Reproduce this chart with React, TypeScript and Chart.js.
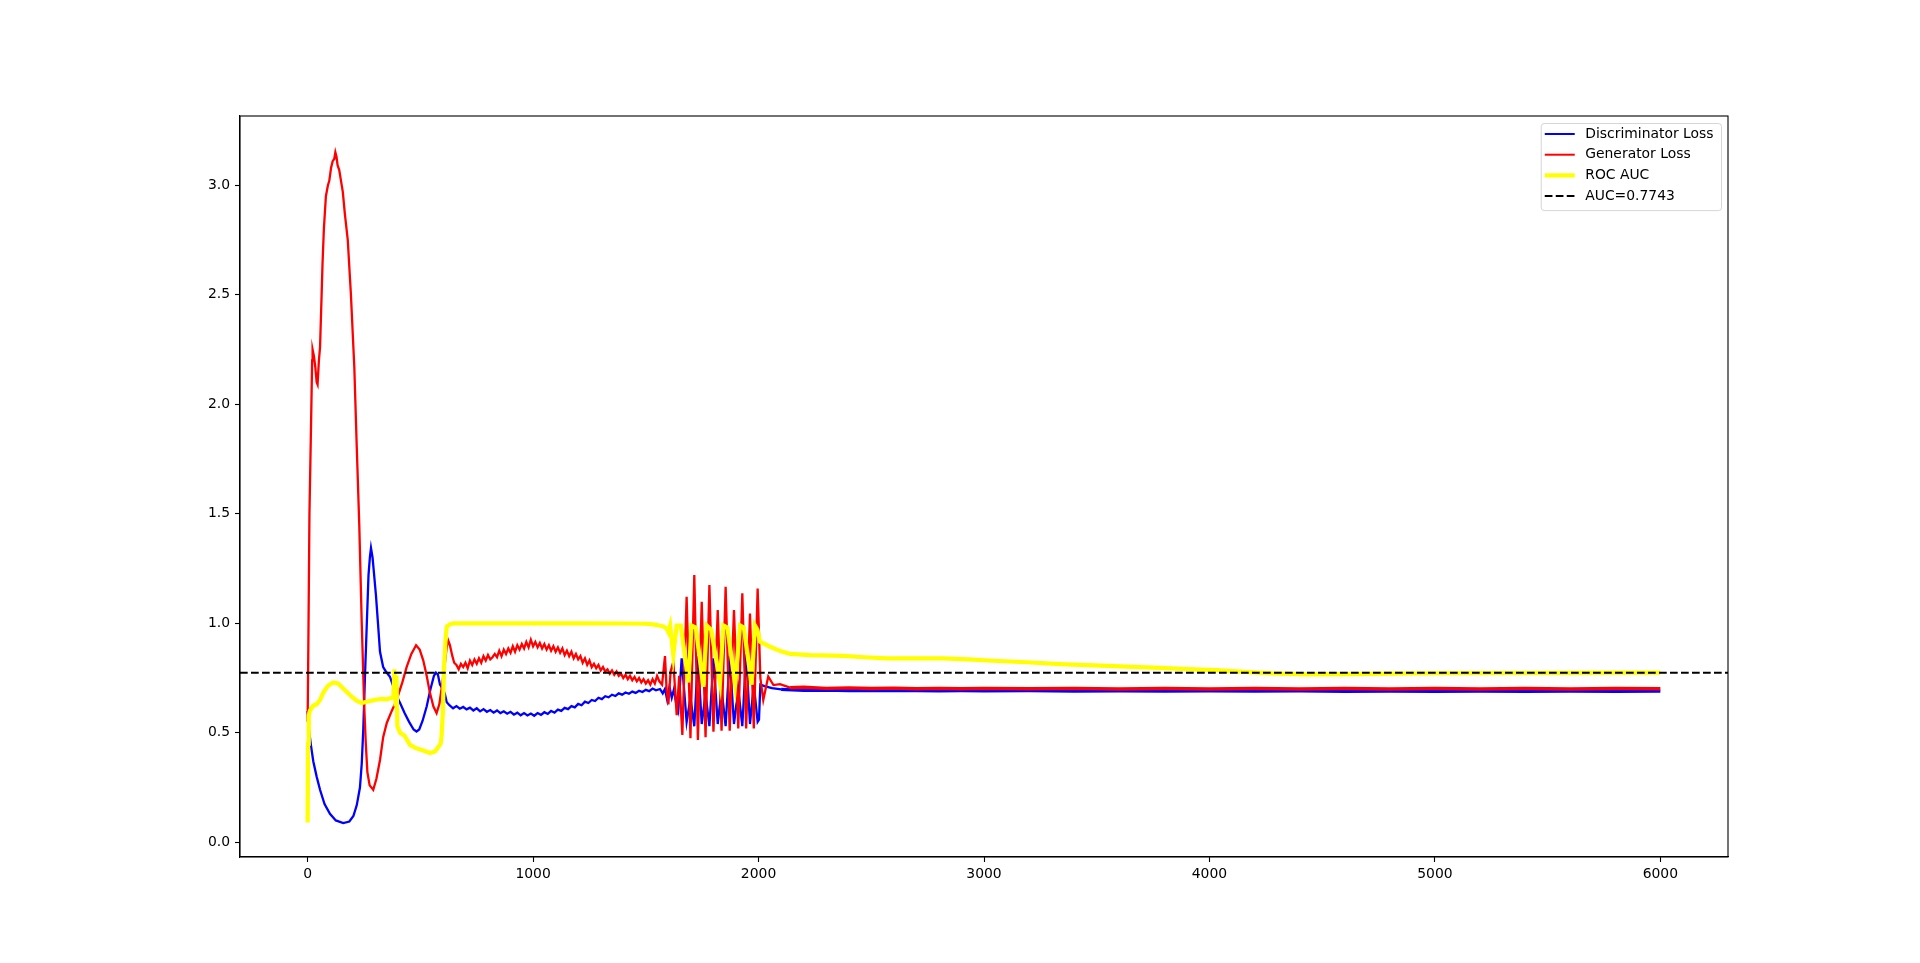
import { useEffect, useRef } from "react";
import { Chart, registerables } from "chart.js";

Chart.register(...registerables);

// [step, value] pairs
const DISC_LOSS: [number, number][] = [
  [0, 0.6], [5, 0.52], [15, 0.44], [25, 0.37], [40, 0.3], [55, 0.24], [75, 0.175], [99, 0.13], [125, 0.1],
  [158, 0.088], [185, 0.095], [203, 0.12], [218, 0.17], [232, 0.25], [240, 0.36], [247, 0.52], [255, 0.78],
  [262, 0.985], [270, 1.22], [276, 1.3], [281, 1.344], [288, 1.3], [295, 1.22], [303, 1.128], [312, 1.0],
  [321, 0.87], [335, 0.8], [347, 0.78], [365, 0.756], [377, 0.72], [390, 0.68], [410, 0.636], [430, 0.59],
  [450, 0.55], [470, 0.515], [483, 0.506], [495, 0.515], [510, 0.555], [528, 0.62], [545, 0.7], [560, 0.76],
  [569, 0.775], [578, 0.765], [587, 0.72], [600, 0.7], [608, 0.68], [617, 0.64], [630, 0.625], [645, 0.612],
  [660, 0.622], [675, 0.61], [690, 0.618], [705, 0.607], [720, 0.615], [735, 0.602], [750, 0.612], [765, 0.598],
  [780, 0.608], [795, 0.596], [810, 0.604], [825, 0.592], [840, 0.602], [855, 0.59], [870, 0.598], [885, 0.587],
  [900, 0.596], [915, 0.583], [930, 0.592], [945, 0.58], [960, 0.59], [975, 0.579], [990, 0.588], [1005, 0.578],
  [1020, 0.59], [1035, 0.582], [1050, 0.594], [1065, 0.586], [1080, 0.6], [1095, 0.592], [1110, 0.606],
  [1125, 0.6], [1140, 0.614], [1155, 0.608], [1170, 0.622], [1185, 0.616], [1200, 0.632], [1215, 0.626],
  [1230, 0.642], [1245, 0.636], [1260, 0.65], [1275, 0.645], [1290, 0.66], [1305, 0.654], [1320, 0.667],
  [1335, 0.662], [1350, 0.674], [1365, 0.668], [1380, 0.68], [1395, 0.674], [1410, 0.684], [1425, 0.678],
  [1440, 0.688], [1455, 0.682], [1470, 0.692], [1485, 0.686], [1500, 0.696], [1515, 0.69], [1530, 0.702],
  [1545, 0.694], [1563, 0.7], [1575, 0.68], [1585, 0.7], [1595, 0.65], [1605, 0.71], [1615, 0.66], [1625, 0.7],
  [1635, 0.63], [1644, 0.6], [1659, 0.84], [1681, 0.55], [1698, 0.66], [1715, 0.53], [1731, 0.85], [1748, 0.54],
  [1765, 0.68], [1782, 0.53], [1800, 0.84], [1819, 0.54], [1836, 0.7], [1854, 0.53], [1872, 0.85], [1891, 0.54],
  [1910, 0.7], [1928, 0.53], [1945, 0.86], [1962, 0.54], [1979, 0.72], [1996, 0.55], [2002, 0.56], [2008, 0.72],
  [2030, 0.712], [2060, 0.704], [2100, 0.698], [2200, 0.694], [2300, 0.695], [2400, 0.693], [2500, 0.694],
  [2600, 0.692], [2700, 0.693], [2800, 0.691], [2900, 0.692], [3000, 0.691], [3200, 0.692], [3400, 0.69],
  [3600, 0.691], [3800, 0.69], [4000, 0.691], [4200, 0.69], [4400, 0.691], [4600, 0.689], [4800, 0.69],
  [5000, 0.689], [5200, 0.69], [5400, 0.689], [5600, 0.69], [5800, 0.689], [6000, 0.69],
];

const GEN_LOSS: [number, number][] = [
  [0, 0.55], [4, 1.0], [8, 1.5], [15, 1.9], [20, 2.2], [22, 2.25], [28, 2.22], [34, 2.17], [40, 2.1], [44, 2.09],
  [50, 2.2], [55, 2.26], [62, 2.5], [66, 2.64], [72, 2.8], [81, 2.95], [90, 3.0], [96, 3.02], [104, 3.08],
  [111, 3.11], [118, 3.12], [123, 3.15], [128, 3.13], [133, 3.09], [140, 3.07], [148, 3.02], [156, 2.97],
  [165, 2.87], [178, 2.75], [192, 2.5], [207, 2.17], [218, 1.8], [229, 1.45], [240, 1.0], [251, 0.62],
  [258, 0.45], [265, 0.32], [275, 0.26], [291, 0.24], [305, 0.29], [321, 0.376], [335, 0.48], [351, 0.545],
  [373, 0.6], [395, 0.65], [420, 0.73], [439, 0.8], [460, 0.86], [481, 0.9], [497, 0.88], [513, 0.83],
  [528, 0.76], [543, 0.68], [558, 0.62], [572, 0.59], [584, 0.63], [594, 0.7], [607, 0.8], [617, 0.893],
  [624, 0.92], [631, 0.9], [642, 0.85], [650, 0.82], [660, 0.81], [670, 0.79], [680, 0.815], [690, 0.8],
  [700, 0.82], [710, 0.795], [720, 0.83], [730, 0.81], [740, 0.835], [750, 0.815], [760, 0.84], [770, 0.82],
  [780, 0.85], [790, 0.83], [800, 0.855], [810, 0.835], [820, 0.845], [830, 0.86], [840, 0.845], [850, 0.875],
  [860, 0.85], [870, 0.88], [880, 0.86], [890, 0.885], [900, 0.865], [910, 0.895], [920, 0.87], [930, 0.9],
  [940, 0.88], [950, 0.905], [960, 0.885], [970, 0.915], [980, 0.89], [990, 0.925], [1000, 0.895],
  [1010, 0.915], [1020, 0.89], [1030, 0.91], [1040, 0.885], [1050, 0.905], [1060, 0.88], [1070, 0.9],
  [1080, 0.875], [1090, 0.895], [1100, 0.87], [1110, 0.89], [1120, 0.865], [1130, 0.885], [1140, 0.855],
  [1150, 0.875], [1160, 0.85], [1170, 0.87], [1180, 0.84], [1190, 0.86], [1200, 0.835], [1210, 0.85],
  [1220, 0.82], [1230, 0.84], [1240, 0.81], [1250, 0.83], [1260, 0.8], [1270, 0.815], [1280, 0.795],
  [1290, 0.81], [1300, 0.785], [1310, 0.8], [1320, 0.78], [1330, 0.79], [1340, 0.77], [1350, 0.785],
  [1360, 0.765], [1370, 0.78], [1380, 0.76], [1390, 0.77], [1400, 0.75], [1410, 0.765], [1420, 0.745],
  [1430, 0.76], [1440, 0.74], [1450, 0.755], [1460, 0.735], [1470, 0.75], [1480, 0.73], [1490, 0.745],
  [1500, 0.725], [1510, 0.74], [1520, 0.72], [1530, 0.745], [1540, 0.725], [1550, 0.76], [1560, 0.735],
  [1572, 0.72], [1585, 0.85], [1592, 0.7], [1600, 0.63], [1610, 0.78], [1622, 0.825], [1637, 0.58],
  [1648, 0.76], [1662, 0.49], [1681, 1.121], [1698, 0.475], [1715, 1.22], [1731, 0.467], [1748, 1.098],
  [1765, 0.48], [1782, 1.175], [1800, 0.505], [1819, 1.061], [1836, 0.51], [1854, 1.167], [1872, 0.51],
  [1891, 1.061], [1910, 0.52], [1928, 1.137], [1945, 0.52], [1962, 1.045], [1979, 0.52], [1996, 1.159],
  [2008, 0.75], [2021, 0.65], [2043, 0.757], [2066, 0.718], [2095, 0.722], [2140, 0.706], [2200, 0.708],
  [2300, 0.703], [2400, 0.705], [2500, 0.702], [2600, 0.704], [2700, 0.701], [2800, 0.703], [2900, 0.701],
  [3000, 0.703], [3200, 0.701], [3400, 0.703], [3600, 0.7], [3800, 0.702], [4000, 0.7], [4200, 0.702],
  [4400, 0.7], [4600, 0.702], [4800, 0.7], [5000, 0.702], [5200, 0.7], [5400, 0.702], [5600, 0.7],
  [5800, 0.702], [6000, 0.701],
];

const ROC_AUC: [number, number][] = [
  [0, 0.09], [2, 0.45], [5, 0.58], [10, 0.6], [25, 0.625], [40, 0.63], [55, 0.65], [70, 0.685], [90, 0.715],
  [114, 0.73], [135, 0.725], [160, 0.7], [190, 0.67], [215, 0.648], [240, 0.636], [265, 0.643], [290, 0.648],
  [306, 0.652], [330, 0.655], [350, 0.653], [373, 0.66], [380, 0.66], [385, 0.79], [390, 0.62], [394, 0.76],
  [398, 0.53], [410, 0.5], [430, 0.487], [454, 0.445], [480, 0.43], [510, 0.42], [543, 0.408], [565, 0.415],
  [580, 0.436], [590, 0.45], [594, 0.483], [600, 0.6], [605, 0.8], [612, 0.93], [617, 0.985], [630, 0.995],
  [646, 1.0], [800, 1.0], [1000, 1.0], [1200, 1.0], [1400, 0.999], [1500, 0.998], [1532, 0.995], [1560, 0.99],
  [1580, 0.985], [1593, 0.975], [1600, 0.96], [1608, 0.99], [1622, 0.855], [1637, 0.99], [1655, 0.99],
  [1689, 0.73], [1703, 0.99], [1722, 0.98], [1755, 0.71], [1770, 0.99], [1790, 0.97], [1829, 0.73],
  [1844, 0.99], [1862, 0.98], [1896, 0.72], [1918, 0.99], [1935, 0.98], [1969, 0.72], [1984, 0.99],
  [1995, 0.97], [2006, 0.916], [2051, 0.893], [2100, 0.872], [2140, 0.86], [2228, 0.855], [2376, 0.851],
  [2470, 0.845], [2568, 0.84], [2700, 0.84], [2820, 0.84], [2930, 0.835], [3041, 0.829], [3190, 0.822],
  [3337, 0.814], [3490, 0.808], [3633, 0.802], [3780, 0.796], [3929, 0.79], [4030, 0.786], [4135, 0.779],
  [4280, 0.771], [4431, 0.767], [4600, 0.768], [4800, 0.77], [5000, 0.772], [5300, 0.773], [5600, 0.774],
  [5800, 0.775], [6000, 0.775],
];

const AUC_LINE = 0.7743;
const X_RANGE = [-300, 6300];
const Y_RANGE = [-0.067, 3.316];
const X_TICKS = [0, 1000, 2000, 3000, 4000, 5000, 6000];
const Y_TICKS = [0.0, 0.5, 1.0, 1.5, 2.0, 2.5, 3.0];
const NOISY_TAIL_FROM = 2100;

const FONT = "DejaVu Sans";
const FS = 13.9;
const DASH = [7.7, 3.3];

const LEGEND_ITEMS = [
  { label: "Discriminator Loss", color: "#0000ff", width: 2, dash: [] as number[] },
  { label: "Generator Loss", color: "#ff0000", width: 2, dash: [] as number[] },
  { label: "ROC AUC", color: "#ffff00", width: 4.2, dash: [] as number[] },
  { label: `AUC=${AUC_LINE}`, color: "#000000", width: 2, dash: DASH },
];

const toXY = (pts: [number, number][]) => pts.map(([x, y]) => ({ x, y }));

// top/right spines + matplotlib-style legend box
const framePlugin = {
  id: "mplFrame",
  afterDraw(chart: any) {
    const { ctx, chartArea: a } = chart;
    ctx.save();
    ctx.strokeStyle = "#000";
    ctx.lineWidth = 1.1;
    ctx.strokeRect(a.left, a.top, a.right - a.left, a.bottom - a.top);

    ctx.font = `${FS}px "${FONT}"`;
    const textW = Math.max(...LEGEND_ITEMS.map(it => ctx.measureText(it.label).width));
    const w = textW + 52;
    const right = a.right - 7;
    const left = right - w;
    const top = a.top + 7;
    const rowH = 20.7;
    const h = rowH * (LEGEND_ITEMS.length - 1) + 25;

    ctx.globalAlpha = 0.8;
    ctx.fillStyle = "#fff";
    ctx.strokeStyle = "#cccccc";
    ctx.lineWidth = 1;
    ctx.beginPath();
    ctx.roundRect(left + 0.5, top + 0.5, w, h, 3);
    ctx.fill();
    ctx.stroke();
    ctx.globalAlpha = 1;

    LEGEND_ITEMS.forEach((it, i) => {
      const cy = top + 11 + i * rowH;
      ctx.beginPath();
      ctx.strokeStyle = it.color;
      ctx.lineWidth = it.width;
      ctx.setLineDash(it.dash);
      ctx.moveTo(left + 4, cy);
      ctx.lineTo(left + 34, cy);
      ctx.stroke();
      ctx.setLineDash([]);
      ctx.fillStyle = "#000";
      ctx.textBaseline = "middle";
      ctx.textAlign = "left";
      ctx.fillText(it.label, left + 44.5, cy);
    });
    ctx.restore();
  },
};

export default function App() {
  const canvasRef = useRef<HTMLCanvasElement>(null);
  const chartRef = useRef<Chart | null>(null);

  useEffect(() => {
    if (!canvasRef.current) return;
    if (chartRef.current) chartRef.current.destroy();

    const line = (label: string, pts: [number, number][], color: string, width: number, order: number, tailWidth?: number) => ({
      label,
      data: toXY(pts),
      borderColor: color,
      backgroundColor: color,
      borderWidth: width,
      pointRadius: 0,
      tension: 0,
      fill: false,
      order,
      // the noisy flat tail reads as a thicker band in the reference
      segment: tailWidth
        ? { borderWidth: (c: any) => (c.p0.parsed.x >= NOISY_TAIL_FROM ? tailWidth : undefined) }
        : undefined,
    });

    chartRef.current = new Chart(canvasRef.current, {
      type: "line",
      data: {
        datasets: [
          line("Discriminator Loss", DISC_LOSS, "#0000ff", 2.3, 4, 3.2),
          line("Generator Loss", GEN_LOSS, "#ff0000", 2.3, 3, 3.4),
          line("ROC AUC", ROC_AUC, "#ffff00", 4.2, 2),
          {
            ...line(`AUC=${AUC_LINE}`, [[X_RANGE[0], AUC_LINE], [X_RANGE[1], AUC_LINE]], "#000000", 2.1, 1),
            borderDash: DASH,
          },
        ] as any,
      },
      options: {
        responsive: false,
        animation: false,
        devicePixelRatio: 1,
        layout: { padding: { top: 116, right: 192, bottom: 0, left: 0 } },
        plugins: { legend: { display: false }, tooltip: { enabled: false } },
        scales: {
          x: {
            type: "linear",
            min: X_RANGE[0],
            max: X_RANGE[1],
            afterFit: (s: any) => { s.height = 106; },
            afterBuildTicks: (s: any) => { s.ticks = X_TICKS.map(v => ({ value: v })); },
            grid: { drawOnChartArea: false, drawTicks: true, tickLength: 5, tickColor: "#000", tickWidth: 1.1 },
            border: { display: true, color: "#000", width: 1.1 },
            ticks: {
              color: "#000",
              font: { family: FONT, size: FS },
              padding: 4,
              maxRotation: 0,
              autoSkip: false,
              callback: (v: any) => String(v),
            },
          },
          y: {
            type: "linear",
            min: Y_RANGE[0],
            max: Y_RANGE[1],
            afterFit: (s: any) => { s.width = 240; },
            afterBuildTicks: (s: any) => { s.ticks = Y_TICKS.map(v => ({ value: v })); },
            grid: { drawOnChartArea: false, drawTicks: true, tickLength: 5, tickColor: "#000", tickWidth: 1.1 },
            border: { display: true, color: "#000", width: 1.1 },
            ticks: {
              color: "#000",
              font: { family: FONT, size: FS },
              padding: 5,
              autoSkip: false,
              callback: (v: any) => Number(v).toFixed(1),
            },
          },
        },
      },
      plugins: [framePlugin],
    });

    return () => { chartRef.current?.destroy(); };
  }, []);

  return (
    <div style={{ position: "fixed", left: 0, top: 0, width: 1920, height: 963, background: "#fff" }}>
      <canvas ref={canvasRef} width={1920} height={963} />
    </div>
  );
}
